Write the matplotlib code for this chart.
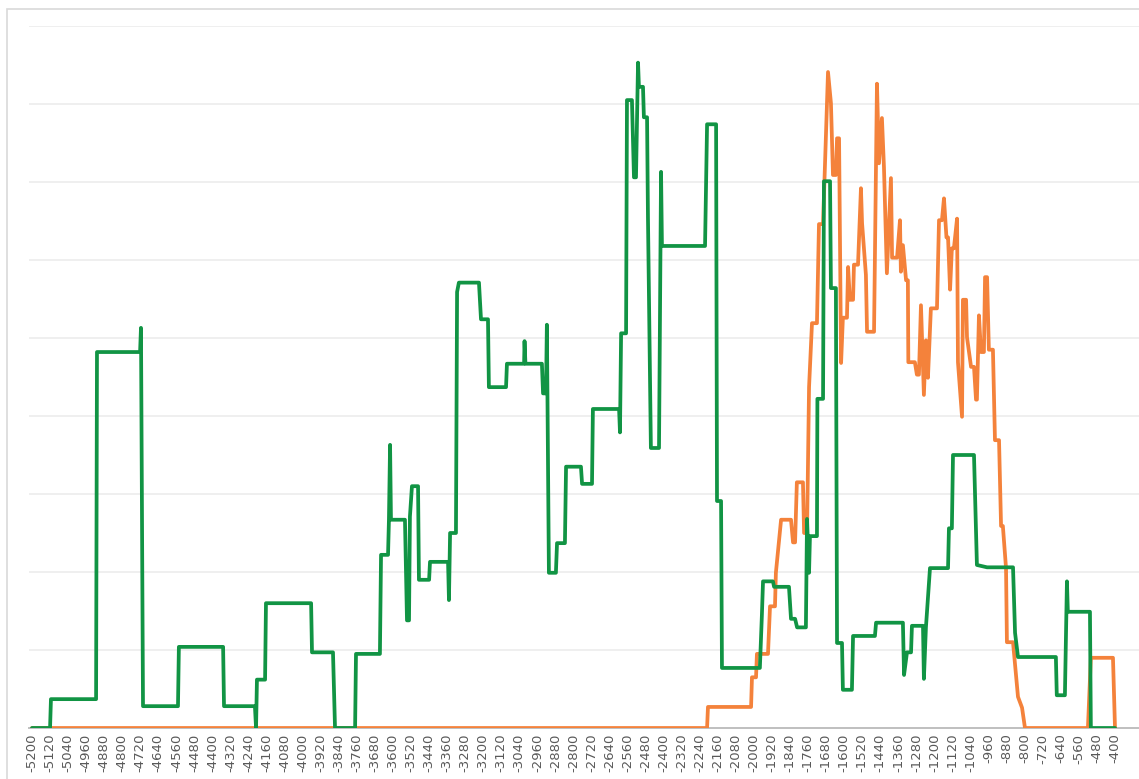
import numpy as np
import matplotlib
matplotlib.use("Agg")
import matplotlib.pyplot as plt
from matplotlib.patches import Rectangle

# ---------------- data (year, value in grid units) ----------------
tick_years = list(range(-5200, -399, 80))

green_years = [-5200, -5120, -5116, -4916, -4912, -4721, -4717, -4708, -4553, -4549,
               -4353, -4349, -4212, -4207, -4203, -4167, -4163, -3963, -3959, -3866,
               -3857, -3768, -3764, -3658, -3653, -3622, -3618, -3613, -3609, -3547,
               -3538, -3529, -3525, -3516, -3489, -3485, -3440, -3436, -3356, -3352,
               -3347, -3321, -3316, -3308, -3219, -3210, -3179, -3175, -3099, -3095,
               -3019, -3017, -3013, -2940, -2935, -2922, -2918, -2909, -2878, -2873,
               -2838, -2833, -2767, -2762, -2718, -2714, -2598, -2594, -2589, -2567,
               -2563, -2541, -2532, -2523, -2514, -2510, -2492, -2488, -2474, -2470,
               -2457, -2421, -2412, -2408, -2217, -2208, -2168, -2164, -2146, -2142,
               -1974, -1965, -1960, -1916, -1911, -1845, -1836, -1818, -1809, -1770,
               -1765, -1756, -1752, -1721, -1719, -1694, -1690, -1663, -1659, -1637,
               -1632, -1610, -1606, -1566, -1561, -1464, -1459, -1340, -1335, -1322,
               -1304, -1300, -1251, -1247, -1238, -1220, -1140, -1136, -1123, -1118,
               -1025, -1012, -967, -852, -843, -830, -662, -658, -622, -613,
               -609, -511, -507, -400]
green_values = [0, 0, 0.37, 0.37, 4.82, 4.82, 5.13, 0.28, 0.28, 1.04,
                1.04, 0.28, 0.28, 0, 0.62, 0.62, 1.60, 1.60, 0.97, 0.97,
                0, 0, 0.95, 0.95, 2.22, 2.22, 2.67, 3.63, 2.67, 2.67,
                1.38, 1.38, 2.71, 3.10, 3.10, 1.90, 1.90, 2.13, 2.13, 1.64,
                2.50, 2.50, 5.59, 5.71, 5.71, 5.24, 5.24, 4.37, 4.37, 4.67,
                4.67, 4.96, 4.67, 4.67, 4.29, 4.29, 5.17, 1.99, 1.99, 2.37,
                2.37, 3.35, 3.35, 3.13, 3.13, 4.09, 4.09, 3.79, 5.06, 5.06,
                8.05, 8.05, 7.06, 7.06, 8.53, 8.22, 8.22, 7.83, 7.83, 6.55,
                3.59, 3.59, 7.13, 6.18, 6.18, 7.74, 7.74, 2.91, 2.91, 0.77,
                0.77, 1.45, 1.88, 1.88, 1.81, 1.81, 1.40, 1.40, 1.29, 1.29,
                2.68, 1.99, 2.46, 2.46, 4.22, 4.22, 7.01, 7.01, 5.64, 5.64,
                1.09, 1.09, 0.49, 0.49, 1.18, 1.18, 1.35, 1.35, 0.68, 0.97,
                0.97, 1.31, 1.31, 0.63, 1.29, 2.05, 2.05, 2.56, 2.56, 3.50,
                3.50, 2.09, 2.06, 2.06, 1.22, 0.91, 0.91, 0.42, 0.42, 1.88,
                1.49, 1.49, 0, 0]

orange_years = [-5200, -2208, -2204, -2013, -2009, -1991, -1987, -1938, -1929, -1907,
                -1903, -1880, -1836, -1827, -1818, -1810, -1783, -1778, -1765, -1756,
                -1743, -1721, -1712, -1694, -1672, -1659, -1650, -1637, -1632, -1623,
                -1614, -1606, -1588, -1583, -1575, -1561, -1557, -1539, -1526, -1521,
                -1504, -1499, -1468, -1455, -1446, -1433, -1424, -1411, -1393, -1388,
                -1366, -1353, -1349, -1340, -1326, -1318, -1316, -1287, -1278, -1269,
                -1260, -1247, -1238, -1229, -1216, -1189, -1180, -1167, -1158, -1147,
                -1140, -1131, -1123, -1114, -1100, -1096, -1078, -1074, -1060, -1056,
                -1038, -1025, -1016, -1012, -1003, -994, -981, -976, -967, -959,
                -941, -932, -914, -905, -897, -883, -879, -852, -830, -812,
                -799, -520, -507, -409, -400]
orange_values = [0, 0, 0.27, 0.27, 0.65, 0.65, 0.95, 0.95, 1.56, 1.56,
                 1.99, 2.67, 2.67, 2.38, 2.38, 3.15, 3.15, 2.50, 2.50, 4.37,
                 5.19, 5.19, 6.46, 6.46, 8.41, 8.01, 7.09, 7.09, 7.56, 7.56,
                 4.68, 5.26, 5.26, 5.91, 5.49, 5.49, 5.94, 5.94, 6.92, 6.47,
                 5.81, 5.08, 5.08, 8.26, 7.24, 7.82, 7.19, 5.83, 7.05, 6.03,
                 6.03, 6.51, 5.85, 6.19, 5.74, 5.74, 4.69, 4.69, 4.53, 4.53,
                 5.42, 4.27, 4.97, 4.49, 5.38, 5.38, 6.51, 6.51, 6.79, 6.29,
                 6.29, 5.62, 6.15, 6.15, 6.53, 4.69, 3.99, 5.49, 5.49, 5.01,
                 4.63, 4.63, 4.21, 4.21, 5.29, 4.82, 4.82, 5.78, 5.78, 4.85,
                 4.85, 3.69, 3.69, 2.59, 2.59, 2.05, 1.10, 1.10, 0.40, 0.26,
                 0, 0, 0.90, 0.90, 0]

# ---------------- figure ----------------
W, H = 1139, 779
fig = plt.figure(figsize=(W / 100, H / 100), dpi=100)
fig.patch.set_facecolor("white")

# chart-area border
fig.patches.append(Rectangle((7 / W, -0.02), 1.05, 1 - 9 / H + 0.02,
                             transform=fig.transFigure, fill=False,
                             edgecolor="#D9D9D9", linewidth=1.2, zorder=0))

left_px, right_px, top_px, base_px = 29, 1139, 26, 728
ax = fig.add_axes([left_px / W, (H - base_px) / H,
                   (right_px - left_px) / W, (base_px - top_px) / H])
ax.set_facecolor("none")

px_per_year = 18.05 / 80.0
ax.set_xlim(-5200 - (32 - left_px) / px_per_year,
            -5200 + (right_px - 32) / px_per_year)
ax.set_ylim(0, 9)

ax.plot(orange_years, orange_values, color="#F4823B", linewidth=2.7,
        solid_joinstyle="round", solid_capstyle="round", zorder=3)
ax.plot(green_years, green_values, color="#119444", linewidth=2.7,
        solid_joinstyle="round", solid_capstyle="round", zorder=4)

ax.set_yticks(range(0, 10))
ax.set_yticklabels([])
ax.yaxis.grid(True, color="#EBEBEB", linewidth=1.1)
ax.set_axisbelow(True)
ax.tick_params(axis="y", length=0)

ax.set_xticks(tick_years)
ax.set_xticklabels([str(t) for t in tick_years], rotation=90,
                   fontsize=9.5, color="#595959")
ax.tick_params(axis="x", length=0, pad=4)

for s in ["top", "left", "right"]:
    ax.spines[s].set_visible(False)
ax.spines["bottom"].set_color("#BFBFBF")
ax.spines["bottom"].set_linewidth(1.4)
ax.spines["bottom"].set_zorder(2)

fig.savefig("out.png", dpi=100, facecolor="white")
